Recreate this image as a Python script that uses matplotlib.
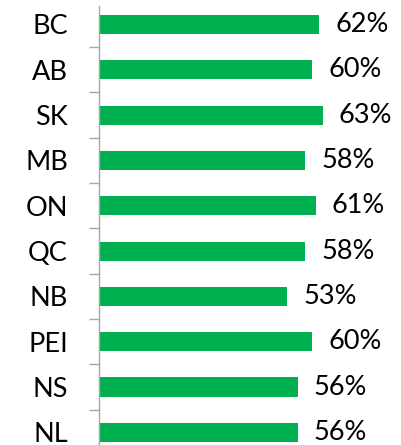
import numpy as np
import matplotlib.pyplot as plt

# provinces, top to bottom
provinces = ["BC", "AB", "SK", "MB", "ON", "QC", "NB", "PEI", "NS", "NL"]
values = [62, 60, 63, 58, 61, 58, 53, 60, 56, 56]

GREEN = "#00B050"
GREY = "#A6A6A6"

plt.rcParams["font.family"] = ["Lato", "DejaVu Sans"]

fig = plt.figure(figsize=(4.01, 4.45), dpi=100)
# axes spans from y=3px (top) down past the bottom edge of the figure
ax = fig.add_axes([98.5 / 401, -10 / 445, (401 - 98.5) / 401, (452 - 3.3) / 445])

y = np.arange(len(provinces))
ax.barh(y, values, height=0.42, color=GREEN)

for yi, v in zip(y, values):
    ax.text(v + 4.5, yi, f"{v}%", va="center", ha="left", fontsize=19.5)

ax.set_ylim(9.5, -0.4)
ax.set_xlim(0, (401 - 98.5) / 3.56)

ax.set_yticks(y)
ax.set_yticklabels(provinces, fontsize=19.5)
ax.tick_params(axis="y", which="major", length=0, pad=22)
ax.set_yticks(y[:-1] + 0.5, minor=True)
ax.tick_params(axis="y", which="minor", length=7.5, width=1, color=GREY)
ax.set_xticks([])

for s in ["top", "right", "bottom"]:
    ax.spines[s].set_visible(False)
ax.spines["left"].set_color(GREY)
ax.spines["left"].set_linewidth(1)

fig.savefig("out.png", dpi=100)
